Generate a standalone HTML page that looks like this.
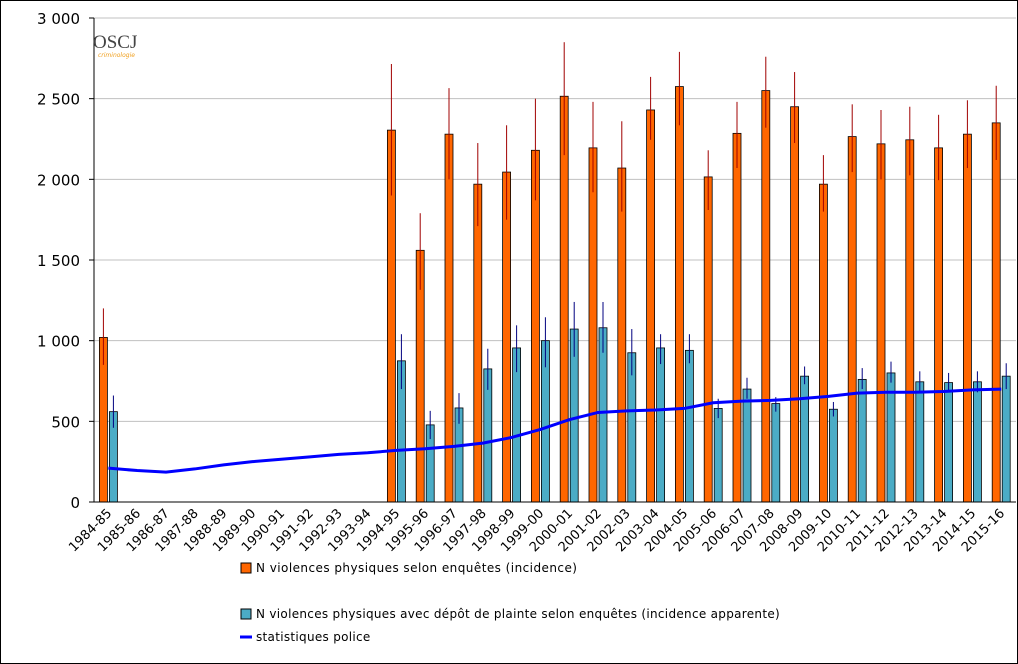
<!DOCTYPE html>
<html><head><meta charset="utf-8"><style>
body{margin:0;background:#fff}
svg{display:block;font-family:"DejaVu Sans","Liberation Sans",sans-serif}
</style></head><body>
<svg id="chart" width="1018" height="664" xmlns="http://www.w3.org/2000/svg">
<rect x="0.5" y="0.5" width="1017" height="663" fill="#fff" stroke="#000"/>
<g id="grid"></g>
<g id="bars"></g>
<g id="axes"></g>
<text x="93" y="48" font-family="Liberation Serif,serif" font-size="19" fill="#444">OSCJ</text>
<text x="98" y="57" font-size="6" fill="#f0a020" font-style="italic">criminologie</text>
<g>
<rect x="241" y="563" width="10" height="10" fill="#ff6600" stroke="#000"/>
<text x="256" y="572" font-size="12" letter-spacing="0.45">N violences physiques selon enquêtes (incidence)</text>
<rect x="241" y="609" width="10" height="10" fill="#4bacc6" stroke="#000"/>
<text x="256" y="618" font-size="12" letter-spacing="0.3">N violences physiques avec dépôt de plainte selon enquêtes (incidence apparente)</text>
<line x1="240" y1="637" x2="252" y2="637" stroke="#0000ff" stroke-width="3"/>
<text x="256" y="641" font-size="12" letter-spacing="0.3">statistiques police</text>
</g>
</svg>
<script>
const categories=["1984-85","1985-86","1986-87","1987-88","1988-89","1989-90","1990-91","1991-92","1992-93","1993-94","1994-95","1995-96","1996-97","1997-98","1998-99","1999-00","2000-01","2001-02","2002-03","2003-04","2004-05","2005-06","2006-07","2007-08","2008-09","2009-10","2010-11","2011-12","2012-13","2013-14","2014-15","2015-16"];
const incidence=[1020,null,null,null,null,null,null,null,null,null,2305,1560,2280,1970,2045,2180,2515,2195,2070,2430,2575,2015,2285,2550,2450,1970,2265,2220,2245,2195,2280,2350];
const incidenceHigh=[1200,null,null,null,null,null,null,null,null,null,2715,1790,2565,2225,2335,2500,2850,2480,2360,2635,2790,2180,2480,2760,2665,2150,2465,2430,2450,2400,2490,2580];
const incidenceLow=[850,null,null,null,null,null,null,null,null,null,1900,1315,2000,1710,1750,1870,2150,1920,1800,2245,2335,1810,2070,2320,2225,1800,2045,2000,2025,1995,2070,2120];
const apparent=[560,null,null,null,null,null,null,null,null,null,875,478,583,825,955,1000,1072,1080,925,955,940,580,700,610,780,575,760,800,745,740,745,780];
const apparentHigh=[660,null,null,null,null,null,null,null,null,null,1040,565,675,950,1095,1145,1240,1240,1072,1040,1040,640,770,650,840,620,830,870,810,800,810,860];
const apparentLow=[460,null,null,null,null,null,null,null,null,null,700,390,485,695,805,835,900,925,785,855,860,520,640,560,730,530,700,740,680,680,680,700];
const police=[210,195,185,205,230,250,265,280,295,305,320,330,345,365,400,450,510,555,565,570,580,615,625,630,640,655,675,680,680,685,695,700];
const yTicks=[0,500,1000,1500,2000,2500,3000];
const yTickLabels=["0","500","1 000","1 500","2 000","2 500","3 000"];

const NS="http://www.w3.org/2000/svg";
const X0=94,CW=28.8,Y0=502,YS=484/3000;
const xc=i=>X0+CW*(i+0.5);
const y=v=>Y0-v*YS;
function mk(tag,attrs,parent){const e=document.createElementNS(NS,tag);for(const k in attrs)e.setAttribute(k,attrs[k]);document.getElementById(parent).appendChild(e);return e;}

yTicks.forEach((t,i)=>{
  if(t>0){const g=mk('line',{x1:X0,x2:1016,y1:y(t),y2:y(t),stroke:'#c0c0c0'},'grid');
  
  }
  const tk=mk('line',{x1:X0-5,x2:X0,y1:y(t),y2:y(t),stroke:'#000'},'axes');
  
  
  const l=mk('text',{x:X0-14,y:y(t)+6,'text-anchor':'end','font-size':'15'},'axes');
  l.textContent=yTickLabels[i];
  
  
});
categories.forEach((c,i)=>{
  if(incidence[i]!=null){
    const b=mk('rect',{x:xc(i)-9,y:y(incidence[i]),width:8,height:incidence[i]*YS,fill:'#ff6600',stroke:'#000','stroke-width':'0.8'},'bars');
    
    
    const e=mk('line',{x1:xc(i)-5,x2:xc(i)-5,y1:y(incidenceHigh[i]),y2:y(incidenceLow[i]),stroke:'#a00000'},'bars');
    
    
  }
  if(apparent[i]!=null){
    const b=mk('rect',{x:xc(i)+1,y:y(apparent[i]),width:8,height:apparent[i]*YS,fill:'#4bacc6',stroke:'#000','stroke-width':'0.8'},'bars');
    
    
    const e=mk('line',{x1:xc(i)+5,x2:xc(i)+5,y1:y(apparentHigh[i]),y2:y(apparentLow[i]),stroke:'#000080'},'bars');
    
    
  }
  const l=mk('text',{x:0,y:0,'text-anchor':'end','font-size':'13',transform:`translate(${xc(i)+4},${Y0+12}) rotate(-45)`},'axes');
  l.textContent=c;
  
  
});
const pl=mk('polyline',{points:police.map((v,i)=>xc(i)+','+y(v)).join(' '),fill:'none',stroke:'#0000ff','stroke-width':'3'},'bars');


const ya=mk('line',{x1:X0,x2:X0,y1:18,y2:Y0,stroke:'#000'},'axes');


const xa=mk('line',{x1:X0,x2:1016,y1:Y0,y2:Y0,stroke:'#000'},'axes');


</script>
</body></html>
